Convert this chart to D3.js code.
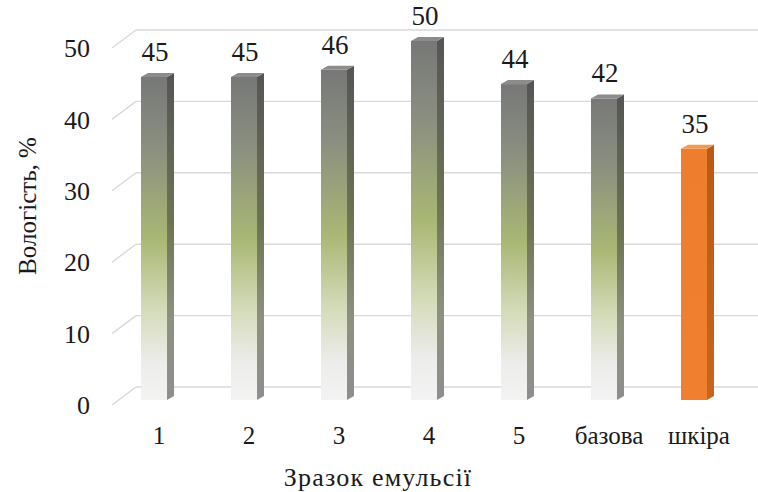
<!DOCTYPE html>
<html>
<head>
<meta charset="utf-8">
<script src="https://cdn.jsdelivr.net/npm/d3@7"></script>
<style>
  html, body { margin: 0; padding: 0; background: #ffffff; }
  svg { display: block; }
</style>
</head>
<body>
<svg id="chart" width="758" height="492"></svg>
<script>
// Moisture of emulsion samples vs. skin
const categories = ["1", "2", "3", "4", "5", "базова", "шкіра"];
const moisture = [45, 45, 46, 50, 44, 42, 35];
const yTicks = [0, 10, 20, 30, 40, 50];
const highlighted = ["шкіра"];
const yTitle = "Вологість, %";
const xTitle = "Зразок емульсії";

const FONT = "Liberation Serif";
const INK = "#1a1a1a";
const svg = d3.select("#chart").attr("font-family", FONT);
const defs = svg.append("defs");

// Front plane (bars) and back wall (gridlines) of the 3D box
const yBar = d3.scaleLinear().domain([0, 50]).range([400, 41]);
const yWall = d3.scaleLinear().domain([0, 50]).range([387, 30]);
const x = d3.scaleBand().domain(categories)
  .range([96, 752]).paddingInner(0.711).paddingOuter(0.5);

const wallLeft = 136, stubLeft = 112, stubDrop = 18;
const barDx = 7, barDy = 4;

// Gradients
function vGrad(id, stops) {
  const g = defs.append("linearGradient").attr("id", id)
    .attr("x1", 0).attr("y1", 0).attr("x2", 0).attr("y2", 1);
  stops.forEach(([o, c]) => g.append("stop").attr("offset", o).attr("stop-color", c));
}
vGrad("frontGreen", [[0, "#777877"], [0.22, "#8a8f80"], [0.5, "#a9b774"], [0.72, "#d4dbb9"], [0.88, "#ececea"], [1, "#f3f3f3"]]);
vGrad("sideGreen", [[0, "#555555"], [0.45, "#6c7352"], [0.75, "#8c917e"], [1, "#8e8e8e"]]);
vGrad("frontOrange", [[0, "#ee7d2e"], [1, "#f0802f"]]);
vGrad("sideOrange", [[0, "#b85a16"], [1, "#c6651f"]]);

// Gridlines on the back wall with their floor-side stubs
const grid = svg.append("g").attr("stroke", "#d9d9d9").attr("stroke-width", 1.4).attr("fill", "none");
grid.selectAll("line.wall").data(yTicks).join("line")
  .attr("class", "wall")
  .attr("x1", wallLeft).attr("x2", 758)
  .attr("y1", d => yWall(d)).attr("y2", d => yWall(d));
grid.selectAll("line.stub").data(yTicks).join("line")
  .attr("class", "stub")
  .attr("x1", stubLeft).attr("y1", d => yWall(d) + stubDrop)
  .attr("x2", wallLeft).attr("y2", d => yWall(d));

// Y tick labels
svg.append("g").selectAll("text").data(yTicks).join("text")
  .attr("x", 90).attr("y", d => yWall(d) + stubDrop)
  .attr("dy", "0.35em").attr("text-anchor", "end")
  .attr("font-size", 26).attr("fill", INK)
  .text(d => d);

// Bars drawn as front, side and top faces
const data = categories.map((c, i) => ({ cat: c, value: moisture[i], hi: highlighted.includes(c) }));
const bars = svg.append("g").selectAll("g").data(data).join("g");
const bw = x.bandwidth();

bars.append("path")
  .attr("fill", d => d.hi ? "url(#sideOrange)" : "url(#sideGreen)")
  .attr("d", d => {
    const x0 = x(d.cat) + bw, yt = yBar(d.value), yb = yBar(0);
    return `M${x0},${yt}L${x0 + barDx},${yt - barDy}L${x0 + barDx},${yb - barDy}L${x0},${yb}Z`;
  });
bars.append("rect")
  .attr("x", d => x(d.cat)).attr("y", d => yBar(d.value))
  .attr("width", bw).attr("height", d => yBar(0) - yBar(d.value))
  .attr("fill", d => d.hi ? "url(#frontOrange)" : "url(#frontGreen)");
bars.append("path")
  .attr("fill", d => d.hi ? "#f29a55" : "#8c8c8c")
  .attr("d", d => {
    const x0 = x(d.cat), yt = yBar(d.value);
    return `M${x0},${yt}L${x0 + bw},${yt}L${x0 + bw + barDx},${yt - barDy}L${x0 + barDx},${yt - barDy}Z`;
  });

// Value labels
bars.append("text")
  .attr("x", d => x(d.cat) + bw / 2 + 1)
  .attr("y", d => yBar(d.value) - 16)
  .attr("text-anchor", "middle")
  .attr("font-size", 27).attr("fill", INK)
  .text(d => d.value);

// Category labels
svg.append("g").selectAll("text").data(categories).join("text")
  .attr("x", d => x(d) + bw / 2 + 5)
  .attr("y", 444)
  .attr("text-anchor", "middle")
  .attr("font-size", 25).attr("fill", INK)
  .text(d => d);

// Axis titles
svg.append("text")
  .attr("x", 378).attr("y", 486)
  .attr("text-anchor", "middle").attr("font-size", 26)
  .attr("letter-spacing", 1.2).attr("fill", INK)
  .text(xTitle);
svg.append("text")
  .attr("transform", "translate(36,206) rotate(-90)")
  .attr("text-anchor", "middle").attr("font-size", 25).attr("fill", INK)
  .text(yTitle);
</script>
</body>
</html>
